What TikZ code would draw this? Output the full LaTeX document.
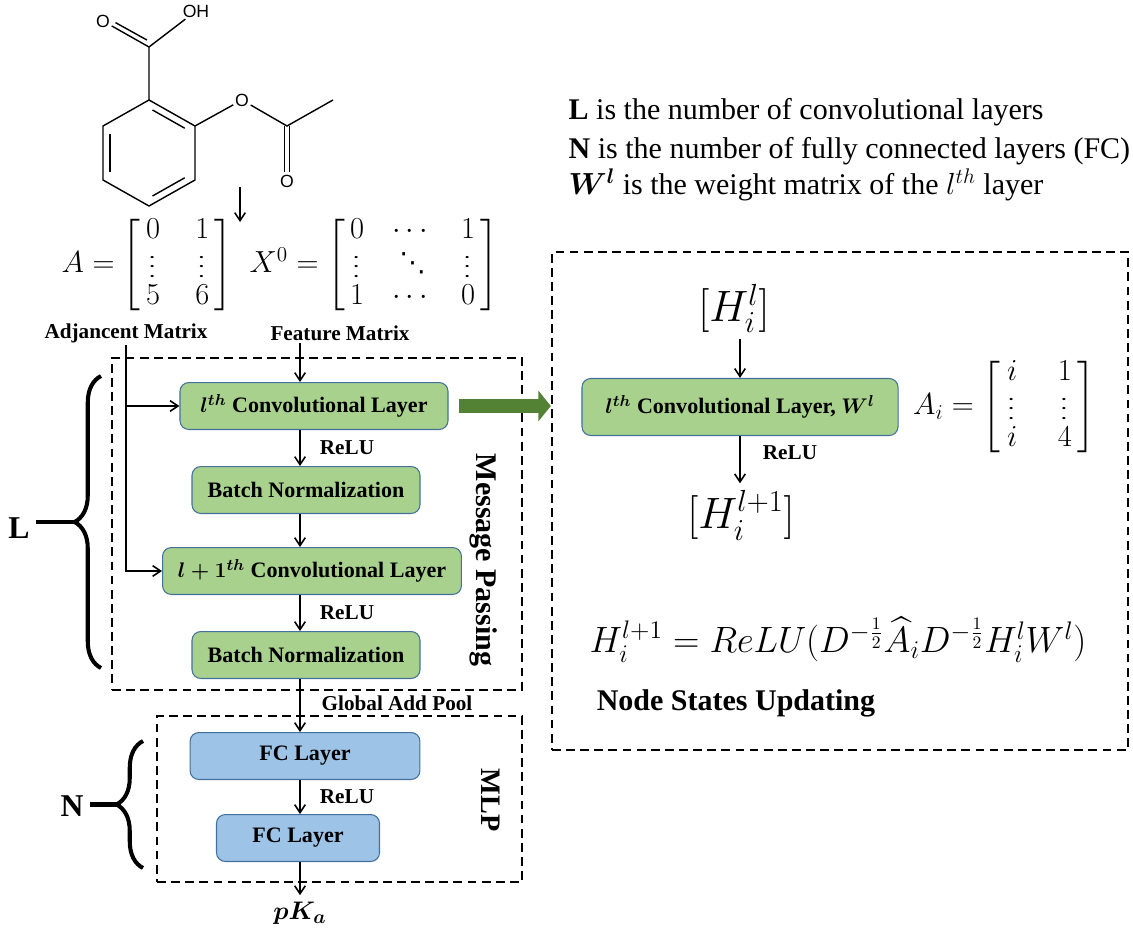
\documentclass[tikz,border=0pt]{standalone}
\usepackage{fontspec}
\setmainfont{Liberation Serif}
\newfontfamily\atomfont{Liberation Sans}
\newfontfamily\symfont{DejaVu Sans}
\usepackage{amsmath}
\usepackage{bm}
\usepackage{graphicx}
\usetikzlibrary{calc}
\usetikzlibrary{arrows.meta}
\usetikzlibrary{decorations.pathreplacing}
\usepackage{xcolor}
\definecolor{convgreen}{HTML}{A9D18E}
\definecolor{fcblue}{HTML}{9DC3E6}
\definecolor{boxline}{HTML}{41719C}
\definecolor{arrowgreen}{HTML}{548235}
\newcommand{\vdotz}{\rotatebox[origin=c]{90}{\scalebox{0.7}[1]{$\cdots$}}}
\newcommand{\ddotz}{\text{\symfont\fontsize{15}{15}\selectfont ⋱}}
\tikzset{
  layer/.style={draw=boxline, line width=0.6pt, rounded corners=5pt, fill=convgreen,
    minimum height=26.6pt, inner sep=1pt, font=\bfseries\fontsize{12.5}{14}\selectfont},
  fclayer/.style={layer, fill=fcblue},
  frame/.style={draw, line width=1.4pt, dash pattern=on 5pt off 3pt, inner sep=0pt},
  lbl/.style={font=\bfseries\fontsize{12}{14}\selectfont, inner sep=1pt},
  bond/.style={line width=0.8pt},
  atom/.style={font=\atomfont\fontsize{10}{10}\selectfont, inner sep=0.6pt},
  brc/.style={decorate, decoration={brace, amplitude=15pt}, line width=2.3pt},
  bigarrow/.style={arrowgreen, line width=7.4pt, -{Triangle[length=7pt,width=17pt]}},
  mtx/.style={font=\fontsize{17}{18.7}\selectfont}
}
\begin{document}
\begin{tikzpicture}[x=0.5667pt, y=-0.5667pt, line width=0.9pt,
  >={Straight Barb[length=4.5pt,width=6pt]}]
\useasboundingbox (0,0) rectangle (1133,935);

\coordinate (r1) at (149,100);
\coordinate (r2) at (195,126);
\coordinate (r3) at (195,180);
\coordinate (r4) at (149,206);
\coordinate (r5) at (103,180);
\coordinate (r6) at (103,126);
\coordinate (ca) at (149,47);
\coordinate (cb) at (287,126);
\coordinate (me) at (333,100);
\node[atom] (o1) at (103,21) {O};
\node[atom] (oh) at (196,11) {OH};
\node[atom] (o2) at (242,100) {O};
\node[atom] (o3) at (287,181) {O};
\draw[bond] (r1)--(r2)--(r3)--(r4)--(r5)--(r6)--cycle;
\draw[bond] (152.5,110)--(184.7,128.2);
\draw[bond] (184.7,177.8)--(152.5,196);
\draw[bond] (110,134)--(110,172);
\draw[bond] (r1)--(ca)--(o1);
\draw[bond] (146.9,40)--(115.5,22.6);
\draw[bond] (ca)--(oh);
\draw[bond] (r2)--(o2)--(cb)--(me);
\draw[bond] (284.5,126)--(284.5,172);
\draw[bond] (289.5,126)--(289.5,172);

\coordinate (molbot) at (240,187);
\coordinate (mattop) at (240,222);
\draw[->] (molbot)--(mattop);

\node[mtx] (amat) at (147,265) {$A=\left[\begin{array}{@{\hspace{3pt}}c@{\hspace{20pt}}c@{\hspace{3pt}}}0&1\\\vdotz&\vdotz\\5&6\end{array}\right]$};
\node[mtx] (xmat) at (374,265) {$X^0=\left[\begin{array}{@{\hspace{3pt}}c@{\hspace{16pt}}c@{\hspace{16pt}}c@{\hspace{3pt}}}0&\cdots&1\\\vdotz&\ddotz&\vdotz\\1&\cdots&0\end{array}\right]$};
\node[lbl] (adj) at (126,333) {Adjancent Matrix};
\node[lbl] (feat) at (340,333) {Feature Matrix};
\coordinate (spine) at (300,343);

\node[frame, minimum width=232.3pt, minimum height=188.1pt] (mp) at (317,524) {};
\node[frame, minimum width=206.8pt, minimum height=94.1pt] (mlp) at (339.5,799) {};
\node[frame, minimum width=326.4pt, minimum height=282.2pt] (upd) at (840,501) {};

\node[layer, minimum width=151.9pt] (c1) at (314,406) {{\boldmath$l^{th}$} Convolutional Layer};
\node[layer, minimum width=129.2pt] (bn1) at (306,490) {Batch Normalization};
\node[layer, minimum width=169.4pt] (c2) at (312,571) {{\boldmath$l+1^{th}$} Convolutional Layer};
\node[layer, minimum width=129.2pt] (bn2) at (306,655) {Batch Normalization};
\node[fclayer, minimum width=130.3pt] (fc1) at (305,756) {FC Layer};
\node[fclayer, minimum width=92.4pt] (fc2) at (298,838) {FC Layer};
\node[font=\fontsize{15}{16}\selectfont] (pka) at (300,913) {$\bm{pK_a}$};

\draw[->] (feat.south -| spine) -- (c1.north -| spine);
\draw[->] (c1.south -| spine) -- (bn1.north -| spine);
\draw[->] (bn1.south -| spine) -- (c2.north -| spine);
\draw[->] (c2.south -| spine) -- (bn2.north -| spine);
\draw[->] (bn2.south -| spine) -- (fc1.north -| spine);
\draw[->] (fc1.south -| spine) -- (fc2.north -| spine);
\draw[->] (fc2.south -| spine) -- (pka.north -| spine);
\draw[->] (adj.south) |- (c2.west);
\draw[->] (adj.south |- c1.west) -- (c1.west);

\node[lbl] at (347,448) {ReLU};
\node[lbl] at (347,613) {ReLU};
\node[lbl] at (347,797) {ReLU};
\node[lbl] at (397,703) {Global Add Pool};
\node[font=\bfseries\fontsize{17}{18}\selectfont, rotate=-90] at (484,560) {Message Passing};
\node[font=\bfseries\fontsize{16}{18}\selectfont, rotate=-90] at (491,800) {MLP};

\draw[brc] (101,668) -- (101,376);
\coordinate (ltip) at (74.5,522);
\node[font=\bfseries\fontsize{18}{18}\selectfont] (lnum) at (19,528) {L};
\draw[line width=2.3pt] (lnum.east |- ltip) -- (ltip);
\draw[brc] (143,868) -- (143,741);
\coordinate (ntip) at (116.5,804.5);
\node[font=\bfseries\fontsize{18}{18}\selectfont] (nnum) at (72,806) {N};
\draw[line width=2.3pt] (nnum.east |- ntip) -- (ntip);

\draw[bigarrow] ([xshift=5.7pt]c1.east) -- (upd.west |- c1.east);

\node[font=\fontsize{27}{29}\selectfont] (hl) at (734,308) {$[H_i^l]$};
\node[layer, minimum width=179.1pt, minimum height=32.3pt] (rconv) at (740,407) {{\boldmath$l^{th}$} Convolutional Layer, $\bm{W^l}$};
\node[font=\fontsize{27}{29}\selectfont] (hl1) at (741,515) {$[H_i^{l+1}]$};
\draw[->] (hl.south -| rconv.north) -- (rconv.north);
\draw[->] (rconv.south) -- (hl1.north -| rconv.south);
\node[lbl] at (790,453) {ReLU};
\node[mtx] (ai) at (1004,407) {$A_i=\left[\begin{array}{@{\hspace{3pt}}c@{\hspace{22pt}}c@{\hspace{3pt}}}i&1\\\vdotz&\vdotz\\i&4\end{array}\right]$};
\node[font=\fontsize{20.5}{22}\selectfont] (eq) at (838,640) {$H_i^{l+1}=ReLU(D^{-\frac{1}{2}}\widehat{A}_iD^{-\frac{1}{2}}H_i^lW^l)$};
\node[font=\bfseries\fontsize{17}{18}\selectfont] at (736,703) {Node States Updating};

\node[anchor=base west, font=\fontsize{17}{20}\selectfont] (nl) at (562,120) {\textbf{L} is the number of convolutional layers};
\node[anchor=base west, font=\fontsize{17}{20}\selectfont] (nn) at (562,158) {\textbf{N} is the number of fully connected layers (FC)};
\node[anchor=base west, font=\fontsize{17}{20}\selectfont] (nw) at (562,195) {$\bm{W^l}$ is the weight matrix of the $l^{th}$ layer};
\end{tikzpicture}
\end{document}
